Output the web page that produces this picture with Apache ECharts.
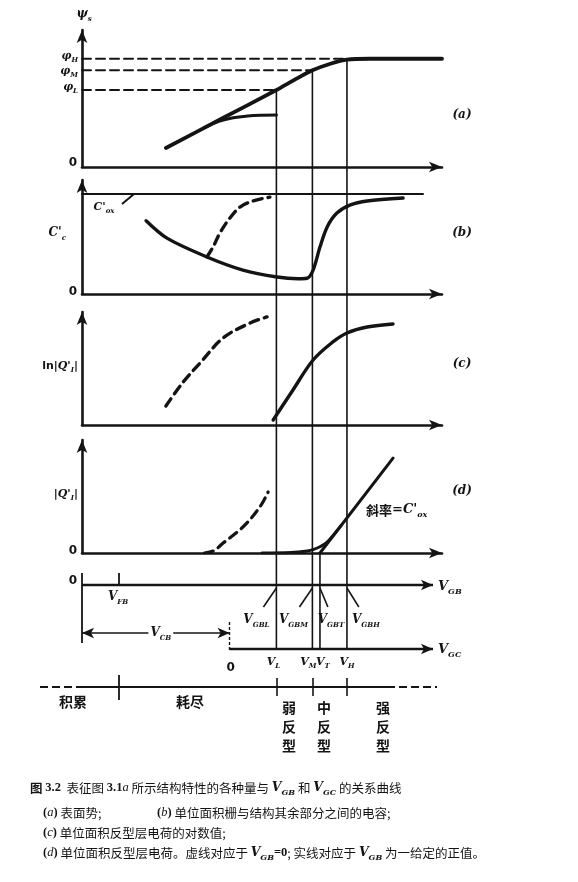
<!DOCTYPE html>
<html><head><meta charset="utf-8">
<script src="https://cdn.jsdelivr.net/npm/echarts@6/dist/echarts.min.js"></script>
<style>html,body{margin:0;padding:0;background:#fff}#c{width:578px;height:882px}</style>
</head><body><div id="c"></div>
<script>
// ---------- data (x in V_GB units, y in percent of each panel's height) ----------
const markNames = ['L', 'M', 'T', 'H'];
const markX = [54, 64, 66.1, 73.6];
const vFB = 10.3;
const vCB = 41;
const phiNames = ['L', 'M', 'H'];
const phiLevels = [56.2, 70.6, 79];
const phiX = [54, 64, 73.6];
const psiMain = [[23.3,13.9],[38.6,35.0],[54,56.2],[59,63.6],[64,70.6],[69,75.4],[73.6,78.4],[80,79],[100,79]];
const psiBranch = [[34,28.7],[38,33.3],[42,35.9],[46,37.2],[50,37.8],[54,38]];
const coxLevel = 87.7, coxEnd = 94.7;
const capSolid = [[17.8,64.3],[23.6,49],[34.7,32.5],[44.7,21],[54.2,14.9],[60,13.4],[62.5,13.8],[64.2,21],[66.1,41.2],[68.1,58.8],[70.8,71],[74.4,78],[79.2,81.6],[89.2,84.2]];
const capDashed = [[34.7,32.5],[36.4,41.2],[38.3,53.5],[41.1,66.7],[43.9,76.3],[47.5,81.6],[52.2,85]];
const lnDashed = [[23.3,16.8],[28.1,38],[32.8,54.9],[39.2,77],[46.7,90.3],[51.4,95.6]];
const lnSolid = [[53.1,4.4],[58.6,31],[64.2,57.5],[69.7,73.5],[73.6,81.4],[79.2,86.7],[86.4,89.4]];
const qDashed = [[34,0],[36.5,1.8],[39.2,8.8],[44.7,23],[49.4,40.7],[51.7,54]];
const qSolid = [[50,0],[58,0.5],[62,1.5],[64.2,3],[66.1,5.5],[68,9.5],[70,16.5],[72,24.4]];
const qAsym = [[66.1,0],[86.4,84]];

// ---------- layout ----------
const X0 = 82, XS = 3.6;
const ux = p => (p - X0) / XS;
const pxX = v => X0 + v * XS;
const P = [{top:30,h:137},{top:180,h:114},{top:312,h:113},{top:440,h:113}];
const pyOf = (i, v) => P[i].top + P[i].h * (1 - v / 100);
const yGB = 585, yGC = 649, yCB = 633, yReg = 687;
const INK = '#141414';

const chart = echarts.init(document.getElementById('c'), null, {renderer:'canvas'});

const grids = P.map(p => ({left:X0, width:360, top:p.top, height:p.h, containLabel:false, outerBoundsMode:'none'}));
grids.push({left:0, width:578, top:0, height:882, containLabel:false, outerBoundsMode:'none'});

const axLine = {show:true, symbol:['none','arrow'], symbolSize:[8,13], lineStyle:{color:INK, width:2.6}};
const xAxes = P.map((p,i) => ({type:'value', gridIndex:i, min:0, max:100, axisLine:axLine, axisTick:{show:false}, axisLabel:{show:false}, splitLine:{show:false}}));
const yAxes = P.map((p,i) => ({type:'value', gridIndex:i, min:0, max:100, axisLine:axLine, axisTick:{show:false}, axisLabel:{show:false}, splitLine:{show:false}}));
xAxes.push({type:'value', gridIndex:4, min:ux(0), max:ux(578), show:false});
yAxes.push({type:'value', gridIndex:4, min:0, max:882, inverse:true, show:false});

function lineS(gi, data, o) {
  o = o || {};
  return {type:'line', xAxisIndex:gi, yAxisIndex:gi, data:data, symbol:'none', silent:true,
    smooth:o.smooth || false, z:o.z || 3,
    lineStyle:{color:INK, width:o.w || 3.4, type:o.dash || 'solid', cap:'round'}};
}

const series = [];
// panel a
series.push(lineS(0, psiMain, {smooth:0.3, w:3.8}));
series.push(lineS(0, psiBranch, {smooth:0.4, w:3}));
phiLevels.forEach((v,i) => series.push(lineS(0, [[0,v],[phiX[i],v]], {w:2, dash:[9,5]})));
// panel b
series.push(lineS(1, [[0,coxLevel],[coxEnd,coxLevel]], {w:2.2}));
series.push(lineS(1, capSolid, {smooth:0.3, w:3.4}));
series.push(lineS(1, capDashed, {smooth:0.35, w:3.4, dash:[9,6]}));
// panel c
series.push(lineS(2, lnDashed, {smooth:0.35, w:3.4, dash:[9,6]}));
series.push(lineS(2, lnSolid, {smooth:0.35, w:3.4}));
// panel d
series.push(lineS(3, qDashed, {smooth:0.35, w:3.2, dash:[9,6]}));
series.push(lineS(3, qSolid, {smooth:0.35, w:3}));
series.push(lineS(3, qAsym, {w:3}));

// vertical guide lines (overlay, page coordinates)
const vStart = [pyOf(0, phiLevels[0]), pyOf(0, phiLevels[1]), pyOf(3, 0), pyOf(0, 78.4)];
markX.forEach((x,i) => series.push(lineS(4, [[x, vStart[i]], [x, yGC]], {w:1.6, z:2})));

// straight annotation segments with arrows
function seg(x1,y1,x2,y2,s1,s2,w,dash) {
  const ls = {color:INK, width:w || 2, type:dash || 'solid'};
  return [{coord:[x1,y1], symbol:s1 || 'none', symbolSize:[8,12], lineStyle:ls}, {coord:[x2,y2], symbol:s2 || 'none', symbolSize:[8,12], lineStyle:ls}];
}
const segs = [
  seg(0,yGB, ux(433),yGB, 'none','arrow',2.4),
  seg(0,573, 0,643, 'none','none',1.8),
  seg(vFB,573, vFB,yGB, 'none','none',1.8),
  seg(0,yCB, vCB,yCB, 'arrow','arrow',1.6),
  seg(vCB,622, vCB,652, 'none','none',1.4,[3,2]),
  seg(vCB,yGC, ux(433),yGC, 'none','arrow',2.4),
  seg(markX[0]-3.6,607, markX[0],588, 'none','none',1.6),
  seg(markX[1]-3.6,607, markX[1],588, 'none','none',1.6),
  seg(markX[2]+2.2,607, markX[2],588, 'none','none',1.6),
  seg(markX[3]+3.3,607, markX[3],588, 'none','none',1.6),
  seg(ux(40),yReg, ux(80),yReg, 'none','none',2,[8,4]),
  seg(ux(80),yReg, ux(387),yReg, 'none','none',2),
  seg(ux(387),yReg, ux(437),yReg, 'none','none',2,[8,4]),
  seg(vFB,675, vFB,700, 'none','none',1.8),
  seg(markX[0],678, markX[0],696, 'none','none',1.6),
  seg(markX[1],678, markX[1],696, 'none','none',1.6),
  seg(markX[3],678, markX[3],696, 'none','none',1.6),
  seg(ux(122),204, ux(134),194, 'none','none',2)
];
series.push({type:'line', xAxisIndex:4, yAxisIndex:4, data:[[0,0]], symbol:'none', silent:true,
  lineStyle:{opacity:0}, markLine:{silent:true, animation:false, label:{show:false}, data:segs}});

// ---------- text ----------
function rich(f) {
  return {
    m:{fontFamily:'DejaVu Serif', fontStyle:'italic', fontWeight:'bold', fontSize:f, lineHeight:f+5, fill:INK},
    s:{fontFamily:'DejaVu Serif', fontStyle:'italic', fontWeight:'bold', fontSize:Math.round(f*0.62), lineHeight:Math.round(f*0.62), verticalAlign:'bottom', fill:INK},
    n:{fontFamily:'DejaVu Sans', fontWeight:'bold', fontSize:f, lineHeight:f+5, fill:INK},
    c:{fontFamily:'Noto Sans CJK SC', fontWeight:'bold', fontSize:f, lineHeight:f+5, fill:INK},
    k:{fontFamily:'Noto Sans CJK SC', fontSize:f, lineHeight:f+5, fill:INK},
    r:{fontFamily:'Liberation Serif', fontWeight:'bold', fontSize:f, lineHeight:f+5, fill:INK},
    ri:{fontFamily:'Liberation Serif', fontStyle:'italic', fontSize:f, lineHeight:f+5, fill:INK}
  };
}
function T(x, y, text, align, f, bg) {
  return {type:'text', x:x, y:y, silent:true, z:20,
    style:{text:text, rich:rich(f || 12), align:align || 'center', verticalAlign:'middle', fill:INK,
      backgroundColor:bg || null, padding: bg ? [0,2] : 0}};
}
const g = [];
g.push(T(84, 14, '{m|ψ}{s|s}', 'center', 12));
const phiLabelY = [87, 71, 56];
phiLevels.forEach((v,i) => g.push(T(78, phiLabelY[i], '{m|φ}{s|'+phiNames[i]+'}', 'right', 11)));
g.push(T(77, 163, '{n|0}', 'right', 12));
g.push(T(66, 233, "{m|C'}{s|c}", 'right', 12));
g.push(T(77, 292, '{n|0}', 'right', 12));
g.push(T(104, 207, "{m|C'}{s|ox}", 'center', 11));
g.push(T(78, 366, "{n|ln|}{m|Q'}{s|I}{n||}", 'right', 11));
g.push(T(78, 494, "{n||}{m|Q'}{s|I}{n||}", 'right', 11));
g.push(T(77, 551, '{n|0}', 'right', 12));
g.push(T(366, 510, "{c|斜率}{n|=}{m|C'}{s|ox}", 'left', 13));
[['a',115],['b',233],['c',364],['d',491]].forEach(p => g.push(T(462, p[1], '{m|('+p[0]+')}', 'center', 12)));
// bottom axes labels
g.push(T(77, 581, '{n|0}', 'right', 12));
g.push(T(438, 587, '{m|V}{s|GB}', 'left', 13));
g.push(T(pxX(vFB)-1, 597, '{m|V}{s|FB}', 'center', 12));
g.push(T(pxX(vCB/2)+5, yCB, '{m|V}{s|CB}', 'center', 12, '#fff'));
g.push(T(438, yGC+1, '{m|V}{s|GC}', 'left', 13));
g.push(T(pxX(vCB)+1, 668, '{n|0}', 'center', 12));
g.push(T(pxX(markX[0])-20, 620, '{m|V}{s|GBL}', 'center', 12));
g.push(T(pxX(markX[1])-19, 620, '{m|V}{s|GBM}', 'center', 12));
g.push(T(pxX(markX[2])+11, 620, '{m|V}{s|GBT}', 'center', 12));
g.push(T(pxX(markX[3])+19, 620, '{m|V}{s|GBH}', 'center', 12));
const vLabDx = [-3, -4, 3, 0];
markNames.forEach((nm,i) => g.push(T(pxX(markX[i]) + vLabDx[i], 662, '{m|V}{s|'+nm+'}', 'center', 11)));
// region labels
g.push(T(73, 702, '{c|积累}', 'center', 14));
g.push(T(190, 702, '{c|耗尽}', 'center', 14));
g.push(T(289, 727, '{c|弱}\n{c|反}\n{c|型}', 'center', 14));
g.push(T(324, 727, '{c|中}\n{c|反}\n{c|型}', 'center', 14));
g.push(T(383, 727, '{c|强}\n{c|反}\n{c|型}', 'center', 14));
// caption
const cf = 12.5;
g.push(T(30, 788, '{c|图 }{r|3.2}{k|  表征图 }{r|3.1}{ri|a}{k| 所示结构特性的各种量与 }{m|V}{s|GB}{k| 和 }{m|V}{s|GC}{k| 的关系曲线}', 'left', cf));
g.push(T(43, 813, '{r|(}{ri|a}{r|)}{k| 表面势;}', 'left', cf));
g.push(T(157, 813, '{r|(}{ri|b}{r|)}{k| 单位面积栅与结构其余部分之间的电容;}', 'left', cf));
g.push(T(43, 833, '{r|(}{ri|c}{r|)}{k| 单位面积反型层电荷的对数值;}', 'left', cf));
g.push(T(43, 853, '{r|(}{ri|d}{r|)}{k| 单位面积反型层电荷。虚线对应于 }{m|V}{s|GB}{r|=0}{k|; 实线对应于 }{m|V}{s|GB}{k| 为一给定的正值。}', 'left', cf));

chart.setOption({
  animation:false,
  backgroundColor:'#fff',
  grid:grids, xAxis:xAxes, yAxis:yAxes, series:series, graphic:g
});
</script></body></html>
